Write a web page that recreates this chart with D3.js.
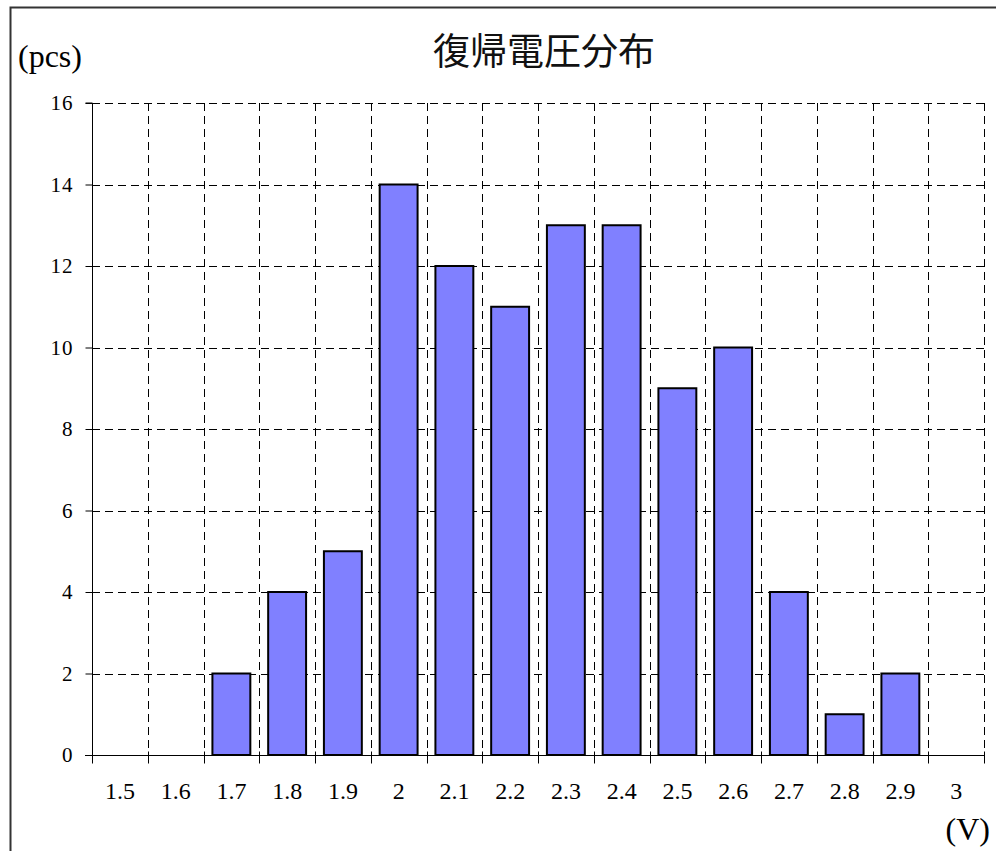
<!DOCTYPE html>
<html><head><meta charset="utf-8">
<script src="https://cdn.jsdelivr.net/npm/d3@7"></script>
<style>body{margin:0;background:#fff}svg{display:block}</style>
</head><body>
<script>
const categories = ["1.5","1.6","1.7","1.8","1.9","2","2.1","2.2","2.3","2.4","2.5","2.6","2.7","2.8","2.9","3"];
const counts = [0,0,2,4,5,14,12,11,13,13,9,10,4,1,2,0];
const yTicks = [0,2,4,6,8,10,12,14,16];
const title = "復帰電圧分布";
const yLabel = "(pcs)";
const xLabel = "(V)";

const W = 996, H = 851;
const m = {left:92, right:12, top:103, bottom:96};
const svg = d3.select("body").append("svg").attr("width",W).attr("height",H);

// frame
svg.append("path").attr("d","M10.5,851 L10.5,7.5 L996,7.5").attr("fill","none").attr("stroke","#333").attr("stroke-width",2);

const x = d3.scaleBand().domain(categories).range([m.left, W-m.right]).paddingInner(0).paddingOuter(0);
const y = d3.scaleLinear().domain([0,16]).range([H-m.bottom, m.top]);
const serif = "'Liberation Serif','DejaVu Serif',serif";

// horizontal grid
svg.append("g").selectAll("line").data(yTicks.filter(d=>d>0)).join("line")
  .attr("x1",m.left).attr("x2",W-m.right)
  .attr("y1",d=>Math.round(y(d))+0.5).attr("y2",d=>Math.round(y(d))+0.5)
  .attr("stroke","#000").attr("stroke-width",1).attr("stroke-dasharray","8,5");
// vertical grid at band boundaries
const bounds = categories.slice(1).map(c=>x(c)).concat([x(categories[categories.length-1])+x.bandwidth()]);
svg.append("g").selectAll("line").data(bounds).join("line")
  .attr("x1",d=>Math.round(d)+0.5).attr("x2",d=>Math.round(d)+0.5)
  .attr("y1",m.top).attr("y2",H-m.bottom)
  .attr("stroke","#000").attr("stroke-width",1).attr("stroke-dasharray","8,5");

// bars
const bw = x.bandwidth()*0.68;
svg.append("g").selectAll("rect").data(categories.map((c,i)=>({c,v:counts[i]})).filter(d=>d.v>0)).join("rect")
  .attr("x",d=>x(d.c)+(x.bandwidth()-bw)/2).attr("width",bw)
  .attr("y",d=>y(d.v)).attr("height",d=>y(0)-y(d.v))
  .attr("fill","#8080ff").attr("stroke","#000").attr("stroke-width",2);

// y axis
const ya = svg.append("g").attr("transform",`translate(${m.left+0.5},0)`)
  .call(d3.axisLeft(y).tickValues(yTicks).tickSize(7).tickPadding(12).tickFormat(d3.format("d")));
ya.select(".domain").attr("stroke","#000").attr("stroke-width",1).attr("d",`M-7,${y(16)}H0V${y(0)}`);
ya.selectAll("text").attr("font-family",serif).attr("font-size",21).attr("letter-spacing",1).attr("fill","#000");

// x axis
const xa = svg.append("g").attr("transform",`translate(0,${Math.round(y(0))+0.5})`);
xa.append("line").attr("x1",m.left-7).attr("x2",W-m.right).attr("stroke","#000");
xa.selectAll("line.t").data([x(categories[0])].concat(bounds)).join("line").attr("class","t")
  .attr("x1",d=>Math.round(d)+0.5).attr("x2",d=>Math.round(d)+0.5).attr("y1",-4).attr("y2",8).attr("stroke","#000");
xa.selectAll("text").data(categories).join("text")
  .attr("x",d=>x(d)+x.bandwidth()/2).attr("y",43).attr("text-anchor","middle")
  .attr("font-family",serif).attr("font-size",24).attr("fill","#000").text(d=>d);

// labels
svg.append("text").attr("x",544).attr("y",65).attr("text-anchor","middle")
  .attr("font-family","'Noto Sans CJK JP',sans-serif").attr("font-size",37).attr("fill","#111").text(title);
svg.append("text").attr("x",18).attr("y",67).attr("font-family",serif).attr("font-size",32).attr("fill","#000").text(yLabel);
svg.append("text").attr("x",990).attr("y",840).attr("text-anchor","end").attr("font-family",serif).attr("font-size",32).attr("fill","#000").text(xLabel);
</script>
</body></html>
